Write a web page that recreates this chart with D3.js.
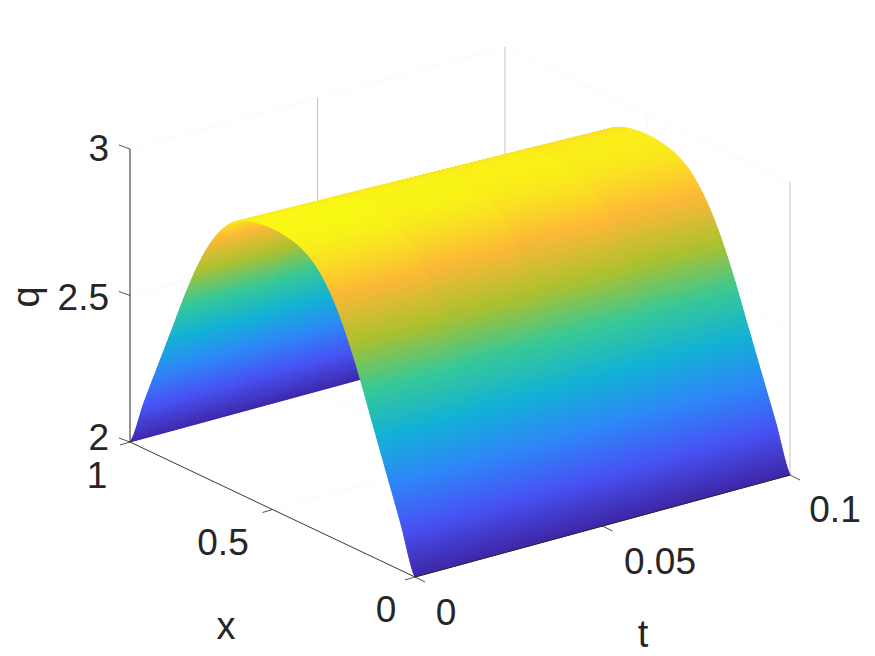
<!DOCTYPE html>
<html><head><meta charset="utf-8">
<script src="https://cdn.jsdelivr.net/npm/d3@7"></script>
<style>html,body{margin:0;padding:0;background:#fff}svg{display:block}text{font-family:"Liberation Sans",Arial,sans-serif;fill:#262626}</style>
</head><body><svg id="c" width="875" height="656"></svg>
<script>
const xGrid=[0,.05,.1,.15,.2,.25,.3,.35,.4,.45,.5,.55,.6,.65,.7,.75,.8,.85,.9,.95,1];
const tGrid=[0,.05,.1];
const qAtT0=[2,2.16,2.31,2.46,2.61,2.74,2.84,2.905,2.94,2.955,2.96,2.955,2.94,2.905,2.84,2.74,2.61,2.46,2.31,2.16,2];
const qAtT05=[2,2.158,2.305,2.452,2.60,2.728,2.825,2.89,2.925,2.94,2.945,2.94,2.925,2.89,2.825,2.728,2.60,2.452,2.305,2.158,2];
const qAtT10=[2,2.155,2.30,2.445,2.59,2.715,2.81,2.875,2.91,2.925,2.93,2.925,2.91,2.875,2.81,2.715,2.59,2.445,2.30,2.155,2];
const xTicks=[0,.5,1], tTicks=[0,.05,.1], qTicks=[2,2.5,3];
const parula=["#3e26a8","#4752f4","#2d87f7","#12b1d6","#37c897","#abc12f","#fdb936","#f9fb14"];

const px=d3.scaleLinear([0,1],[0,-285]), py=d3.scaleLinear([0,1],[0,-135]);
const tx=d3.scaleLinear([0,.1],[0,375]), ty=d3.scaleLinear([0,.1],[0,-102]);
const qy=d3.scaleLinear([2,3],[0,-293]);
const O=[415,577];
const P=(x,t,q)=>[O[0]+px(x)+tx(t),O[1]+py(x)+ty(t)+qy(q)];
const color=d3.scaleLinear().domain(d3.range(8).map(i=>2+(2.96-2)*i/7)).range(parula).interpolate(d3.interpolateRgb).clamp(true);
const svg=d3.select("#c");

const rows=[qAtT0,qAtT05,qAtT10];
const profile=(r,x)=>{ // Catmull-Rom through the read values
  const s=x*(xGrid.length-1), i=Math.min(Math.floor(s),xGrid.length-2), u=s-i;
  const g=k=>r[Math.max(0,Math.min(r.length-1,k))];
  const a=g(i-1),b=g(i),c=g(i+1),d=g(i+2);
  return b+.5*u*((c-a)+u*((2*a-5*b+4*c-d)+u*(3*(b-c)+d-a)));
};
const Q=(x,t)=>{const f=t/.05,i=Math.min(Math.floor(f),1),u=f-i;return profile(rows[i],x)*(1-u)+profile(rows[i+1],x)*u;};

// faint back grid
const faint=(a,b,c,w)=>svg.append("line").attr("x1",a[0]).attr("y1",a[1]).attr("x2",b[0]).attr("y2",b[1]).attr("stroke",c).attr("stroke-width",w||1);
const F="#f9f9f9", V="#c4c4c4";
qTicks.forEach(q=>{faint(P(1,0,q),P(1,.1,q),F);faint(P(1,.1,q),P(0,.1,q),F);});
xTicks.forEach(x=>faint(P(x,0,2),P(x,.1,2),F));
tTicks.forEach(t=>faint(P(0,t,2),P(1,t,2),F));
tTicks.slice(1).forEach(t=>faint(P(1,t,2),P(1,t,3),V));
faint(P(.5,.1,2),P(.5,.1,3),F);
faint(P(0,.1,2),P(0,.1,3),V);

// surface, far cells first
const NX=360,NT=4,g=svg.append("g");
for(let i=NX-1;i>=0;i--){
  const x0=i/NX,x1=(i+1)/NX;
  for(let j=NT-1;j>=0;j--){
    const t0=.1*j/NT,t1=.1*(j+1)/NT;
    const c=color(Q((x0+x1)/2,(t0+t1)/2));
    const pts=[P(x0,t0,Q(x0,t0)),P(x1,t0,Q(x1,t0)),P(x1,t1,Q(x1,t1)),P(x0,t1,Q(x0,t1))];
    g.append("polygon").attr("points",pts.map(p=>p.map(v=>v.toFixed(2)).join(",")).join(" ")).attr("fill",c).attr("stroke",c).attr("stroke-width",1);
  }
}

// axes
const A="#262626";
faint(P(1,0,2),P(1,0,3),A,1);
faint(P(0,0,2),P(1,0,2),A,.9);
faint(P(0,0,2),P(0,.1,2),A,.9);
const shift=(p,d)=>[p[0]+d[0],p[1]+d[1]];
qTicks.forEach(q=>faint(P(1,0,q),shift(P(1,0,q),[-11,-4]),A,.8));
xTicks.forEach(x=>faint(P(x,0,2),shift(P(x,0,2),[-10,3]),A,.8));
tTicks.forEach(t=>faint(P(0,t,2),shift(P(0,t,2),[10,5]),A,.8));

const label=(s,x,y,size,anchor)=>svg.append("text").text(s).attr("x",x).attr("y",y).attr("font-size",size).attr("text-anchor",anchor||"middle");
const fmt=String;
const TS=37;
qTicks.forEach((q,i)=>{const p=P(1,0,q);label(fmt(q),p[0]-21,p[1]+[8,14,12][i],TS,"end");});
label(fmt(xTicks[0]),386,622,TS);
label(fmt(xTicks[1]),223,555,TS);
label(fmt(xTicks[2]),97,488,TS);
label(fmt(tTicks[0]),446,625,TS);
label(fmt(tTicks[1]),660,574,TS);
label(fmt(tTicks[2]),835,522,TS);
label("x",226,639,38);
label("t",643,647,38);
svg.append("text").text("q").attr("font-size",38).attr("text-anchor","middle").attr("transform","translate(39,297) rotate(-90)");
</script></body></html>
